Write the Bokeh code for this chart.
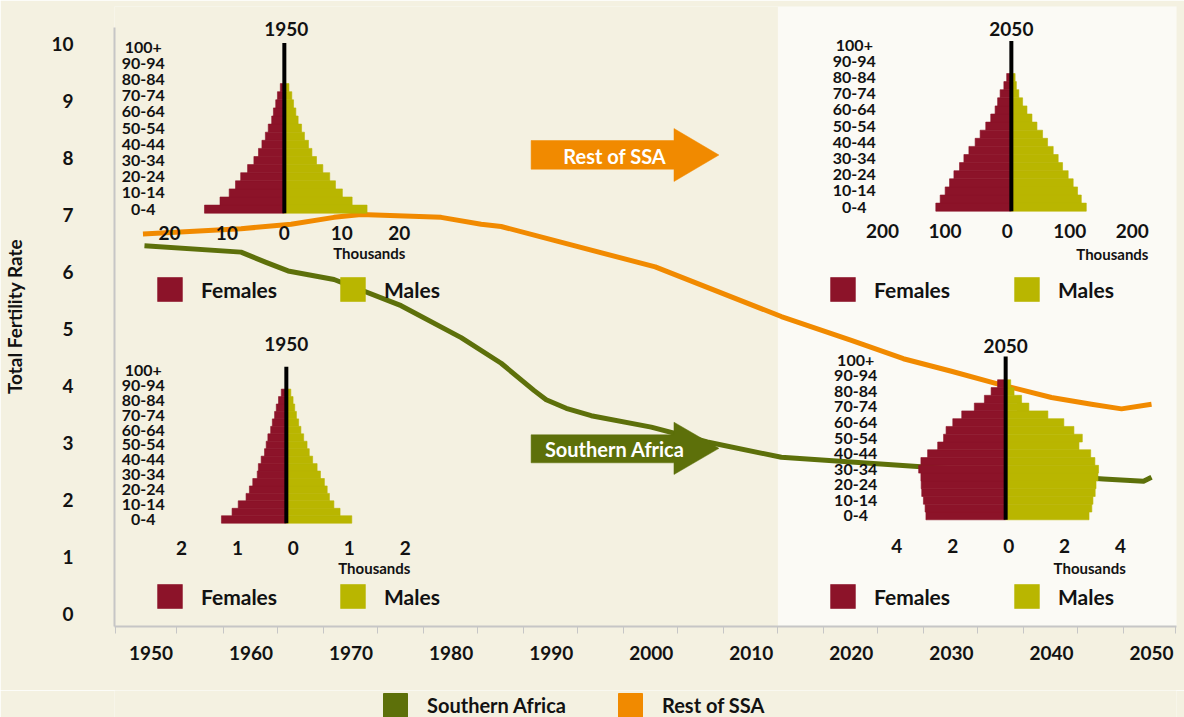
from bokeh.plotting import figure
from bokeh.layouts import column
from bokeh.models import Range1d, FixedTicker, Legend, LegendItem, BoxAnnotation
from bokeh.core.properties import value
from bokeh.embed import file_html
from bokeh.resources import INLINE

# ------------------------------------------------------------------ data
years_southern_africa = [1949.35, 1959.0, 1961.5, 1963.7, 1968.3, 1975.0, 1981.0, 1985.0,
                         1988.3, 1989.5, 1991.5, 1994.0, 2000.0, 2005.6, 2013.0, 2026.6,
                         2045.2, 2049.2, 2050.0]
tfr_southern_africa = [6.45, 6.34, 6.16, 6.01, 5.86, 5.40, 4.84, 4.39,
                       3.91, 3.75, 3.60, 3.47, 3.27, 3.01, 2.74, 2.58,
                       2.36, 2.32, 2.39]

years_rest_ssa = [1949.2, 1959.0, 1964.0, 1968.3, 1971.0, 1979.0, 1983.0, 1985.0, 2000.4,
                  2013.0, 2020.0, 2025.2, 2030.0, 2034.6, 2040.0, 2044.0, 2047.0, 2050.0]
tfr_rest_ssa = [6.66, 6.75, 6.83, 6.95, 7.00, 6.95, 6.83, 6.79, 6.08,
                5.21, 4.79, 4.47, 4.25, 4.03, 3.79, 3.67, 3.59, 3.67]

series_names = ["Southern Africa", "Rest of SSA"]

x_tick_years = [1950, 1960, 1970, 1980, 1990, 2000, 2010, 2020, 2030, 2040, 2050]
y_ticks = [0, 1, 2, 3, 4, 5, 6, 7, 8, 9, 10]

age_labels = ["0-4", "10-14", "20-24", "30-34", "40-44", "50-54",
              "60-64", "70-74", "80-84", "90-94", "100+"]

# population pyramids (thousands), age groups 0-4, 5-9, ... upward
rest_1950_females = [13.9, 11.2, 9.6, 8.5, 7.6, 6.4, 5.3, 4.5, 3.9, 3.3, 2.8, 2.2, 1.9, 1.5, 1.2, 0.7]
rest_1950_males = [14.4, 11.8, 10.1, 8.9, 7.9, 6.7, 5.6, 4.8, 4.2, 3.5, 3.0, 2.4, 2.0, 1.6, 1.3, 0.8]
rest_1950_ticks = [-20, -10, 0, 10, 20]

south_1950_females = [1.16, 0.97, 0.86, 0.72, 0.66, 0.60, 0.52, 0.50, 0.45, 0.39, 0.36, 0.33,
                      0.28, 0.25, 0.21, 0.18, 0.14, 0.09]
south_1950_males = [1.17, 0.96, 0.85, 0.77, 0.73, 0.68, 0.61, 0.55, 0.47, 0.41, 0.37, 0.31,
                    0.26, 0.22, 0.18, 0.15, 0.12, 0.08]
south_1950_ticks = [-2, -1, 0, 1, 2]

rest_2050_females = [121, 114, 106, 99, 92, 83, 76, 68, 58, 50, 41, 33, 26, 22, 18, 12, 7.5]
rest_2050_males = [120, 112, 106, 99, 91, 82, 75, 67, 58, 50, 41, 33, 25, 18, 12, 8, 6]
rest_2050_ticks = [-200, -100, 0, 100, 200]

south_2050_females = [2.85, 2.88, 2.94, 3.00, 3.02, 3.03, 3.11, 3.03, 2.79, 2.43, 2.22, 2.13,
                      1.89, 1.57, 1.12, 0.76, 0.52, 0.29]
south_2050_males = [2.98, 3.08, 3.12, 3.20, 3.23, 3.30, 3.32, 3.19, 3.04, 2.62, 2.74, 2.44,
                    2.08, 1.51, 0.83, 0.57, 0.30, 0.18]
south_2050_ticks = [-4, -2, 0, 2, 4]

# ------------------------------------------------------------------ style
BG = "#F4F1E1"
PANEL = "#FBFAF5"
ORANGE = "#F18A00"
GREEN = "#5D700A"
FEM = "#8C1329"
MAL = "#B9B600"
TXT = "#121212"
AXIS = "#C6C6C6"
FONT = "Lato"

W = 1184
H_MAIN, H_LEG = 690, 27
FRAME_L, FRAME_R, FRAME_T, FRAME_B = 113, 1176, 6, 626   # page pixels

X_1950, PX_PER_YEAR = 149.5, 10.015
Y_ZERO, PX_PER_TFR = 613.0, 57.0


def yr(px):
    return 1950 + (px - X_1950) / PX_PER_YEAR


def tf(py):
    return (Y_ZERO - py) / PX_PER_TFR


p = figure(width=W, height=H_MAIN,
           x_range=Range1d(yr(FRAME_L), yr(FRAME_R)),
           y_range=Range1d(tf(FRAME_B), tf(FRAME_T)),
           output_backend="svg", toolbar_location=None,
           min_border_left=FRAME_L, min_border_right=W - FRAME_R,
           min_border_top=FRAME_T, min_border_bottom=H_MAIN - FRAME_B,
           background_fill_color=BG, border_fill_color=BG, outline_line_color=None)
p.xgrid.visible = False
p.ygrid.visible = False

# light panel for projections
p.add_layout(BoxAnnotation(left=yr(777), fill_color=PANEL, fill_alpha=1.0,
                           line_color=None, level="underlay"))

# x axis
minor = [d + o for d in range(1950, 2050, 10) for o in (2.6, 7.2)] + [yr(FRAME_L) + 0.05, yr(FRAME_R) - 0.05]
p.xaxis.ticker = FixedTicker(ticks=x_tick_years, minor_ticks=minor)
p.xaxis.major_tick_line_color = None
p.xaxis.major_tick_out = 0
p.xaxis.major_tick_in = 0
p.xaxis.minor_tick_in = 0
p.xaxis.minor_tick_out = 7
p.xaxis.minor_tick_line_color = AXIS
p.xaxis.minor_tick_line_width = 1
p.xaxis.axis_line_color = AXIS
p.xaxis.axis_line_width = 2
p.xaxis.major_label_standoff = 12
p.xaxis.major_label_text_font = FONT
p.xaxis.major_label_text_font_style = "bold"
p.xaxis.major_label_text_font_size = "19px"
p.xaxis.major_label_text_color = TXT

# y axis
p.yaxis.ticker = FixedTicker(ticks=y_ticks, minor_ticks=[])
p.yaxis.bounds = (tf(FRAME_B), tf(27))
p.yaxis.major_tick_line_color = None
p.yaxis.major_tick_out = 0
p.yaxis.major_tick_in = 0
p.yaxis.minor_tick_line_color = None
p.yaxis.axis_line_color = AXIS
p.yaxis.axis_line_width = 2
p.yaxis.major_label_standoff = 41
p.yaxis.major_label_text_font = FONT
p.yaxis.major_label_text_font_style = "bold"
p.yaxis.major_label_text_font_size = "19px"
p.yaxis.major_label_text_color = TXT
p.yaxis.axis_label = "Total Fertility Rate"
p.yaxis.axis_label_standoff = 22
p.yaxis.axis_label_text_font = FONT
p.yaxis.axis_label_text_font_style = "bold"
p.yaxis.axis_label_text_font_size = "19px"
p.yaxis.axis_label_text_color = TXT

# TFR lines
p.line(years_southern_africa, tfr_southern_africa, line_color=GREEN, line_width=5, line_join="round")
p.line(years_rest_ssa, tfr_rest_ssa, line_color=ORANGE, line_width=5, line_join="round")

# arrows (annotation shapes)
def arrow(cy_top, cy_bot, head_top, head_bot, color):
    xs = [yr(530), yr(673), yr(673), yr(718), yr(673), yr(673), yr(530)]
    tip = (head_top + head_bot) / 2
    ys = [tf(cy_top), tf(cy_top), tf(head_top), tf(tip), tf(head_bot), tf(cy_bot), tf(cy_bot)]
    return p.patch(xs, ys, fill_color=color, line_color=color, line_width=0.5)

arrow(140, 168.7, 128, 181, ORANGE)
arrow(434.3, 462.3, 421.7, 474, GREEN)
p.text(x=[yr(613.7), yr(613.7)], y=[tf(155), tf(448.3)], text=[series_names[1], series_names[0]],
       text_color="white", text_font=value(FONT), text_font_style="bold", text_font_size="20px",
       text_align="center", text_baseline="middle")

# ------------------------------------------------------------------ pyramids
PYR = [
    dict(key="r50", fem=rest_1950_females, mal=rest_1950_males, ticks=rest_1950_ticks, title="1950",
         xc=283.0, s=5.75, yb=212.7, h=8.1, age_dx=-141, tick_dx=0, tick_dy=20,
         title_dx=2, title_dy=-183.7, th_dx=85, th_dy=40, leg_left=153, leg_cy=289, leg_step=183),
    dict(key="s50", fem=south_1950_females, mal=south_1950_males, ticks=south_1950_ticks, title="1950",
         xc=285.0, s=56.0, yb=522.7, h=7.45, age_dx=-143, tick_dx=7, tick_dy=24.3,
         title_dx=0, title_dy=-179.7, th_dx=88, th_dy=44.3, leg_left=153, leg_cy=596, leg_step=183),
    dict(key="r20", fem=rest_2050_females, mal=rest_2050_males, ticks=rest_2050_ticks, title="2050",
         xc=1010.7, s=0.625, yb=210.7, h=8.1, age_dx=-157, tick_dx=-4, tick_dy=20,
         title_dx=0, title_dy=-182.4, th_dx=101, th_dy=42.3, leg_left=826, leg_cy=289, leg_step=184),
    dict(key="s20", fem=south_2050_females, mal=south_2050_males, ticks=south_2050_ticks, title="2050",
         xc=1005.0, s=28.0, yb=519.3, h=7.78, age_dx=-150, tick_dx=3, tick_dy=25.7,
         title_dx=0, title_dy=-173.6, th_dx=84, th_dy=47.7, leg_left=826, leg_cy=596, leg_step=184),
]

TXT_KW = dict(text_color=TXT, text_font=value(FONT), text_font_style="bold",
              text_align="center", text_baseline="middle")

for d in PYR:
    k = d["key"]
    p.extra_x_ranges[k] = Range1d((FRAME_L - d["xc"]) / d["s"], (FRAME_R - d["xc"]) / d["s"])
    p.extra_y_ranges[k] = Range1d((d["yb"] - FRAME_B) / d["h"], (d["yb"] - FRAME_T) / d["h"])
    rk = dict(x_range_name=k, y_range_name=k)

    yf = [i + 0.5 for i in range(len(d["fem"]))]
    ym = [i + 0.5 for i in range(len(d["mal"]))]
    rf = p.hbar(y=yf, left=[-v for v in d["fem"]], right=0, height=1,
                fill_color=FEM, line_color=FEM, line_width=0.6, **rk)
    rm = p.hbar(y=ym, left=0, right=d["mal"], height=1,
                fill_color=MAL, line_color=MAL, line_width=0.6, **rk)
    p.segment(x0=[0], y0=[0], x1=[0], y1=[21], line_color="black", line_width=4,
              line_cap="butt", **rk)

    # age labels (every other group)
    p.text(x=[0] * len(age_labels), y=[2 * i + 0.5 for i in range(len(age_labels))],
           text=age_labels, x_offset=d["age_dx"], text_font_size="16px", **TXT_KW, **rk)
    # tick labels
    p.text(x=d["ticks"], y=[0] * len(d["ticks"]), text=[str(abs(t)) for t in d["ticks"]],
           x_offset=d["tick_dx"], y_offset=d["tick_dy"], text_font_size="19px", **TXT_KW, **rk)
    # title and unit
    p.text(x=[0], y=[0], text=[d["title"]], x_offset=d["title_dx"], y_offset=d["title_dy"],
           text_font_size="19px", **TXT_KW, **rk)
    p.text(x=[0], y=[0], text=["Thousands"], x_offset=d["th_dx"], y_offset=d["th_dy"],
           text_font_size="15px", **TXT_KW, **rk)

    lg = Legend(items=[LegendItem(label="Females", renderers=[rf]),
                       LegendItem(label="Males", renderers=[rm])],
                location=(d["leg_left"] - FRAME_L, FRAME_B - (d["leg_cy"] + 15)),
                orientation="horizontal", glyph_width=31, glyph_height=30,
                label_standoff=16, label_width=d["leg_step"] - 31 - 16 - 6, spacing=6,
                padding=0, margin=0, background_fill_alpha=0, border_line_color=None,
                label_text_font=FONT, label_text_font_style="bold", label_text_font_size="21px",
                label_text_color=TXT, label_height=30)
    p.add_layout(lg)

# ------------------------------------------------------------------ series legend strip
q = figure(width=W, height=H_LEG, x_range=Range1d(0, 1), y_range=Range1d(0, 1),
           output_backend="svg", toolbar_location=None,
           x_axis_location=None, y_axis_location=None,
           min_border_left=0, min_border_right=0, min_border_top=0, min_border_bottom=0,
           background_fill_color=BG, border_fill_color=BG, outline_line_color=None)
q.xgrid.visible = False
q.ygrid.visible = False
# legend keys (kept outside the visible range of this strip)
key_sa = q.quad(left=[5], right=[6], top=[6], bottom=[5], fill_color=GREEN, line_color=GREEN)
key_rest = q.quad(left=[5], right=[6], top=[6], bottom=[5], fill_color=ORANGE, line_color=ORANGE)
series_legend = Legend(items=[LegendItem(label=series_names[0], renderers=[key_sa]),
                              LegendItem(label=series_names[1], renderers=[key_rest])],
                       location=(379 - FRAME_L, H_LEG - 30),
                       orientation="horizontal", glyph_width=30, glyph_height=30,
                       label_standoff=17, label_width=166, spacing=22,
                       padding=0, margin=0, background_fill_alpha=0, border_line_color=None,
                       label_text_font=FONT, label_text_font_style="bold", label_text_font_size="20px",
                       label_text_color=TXT, label_height=30)
q.add_layout(series_legend)

layout = column(p, q, spacing=0)
open("out.html", "w").write(file_html(layout, INLINE))
